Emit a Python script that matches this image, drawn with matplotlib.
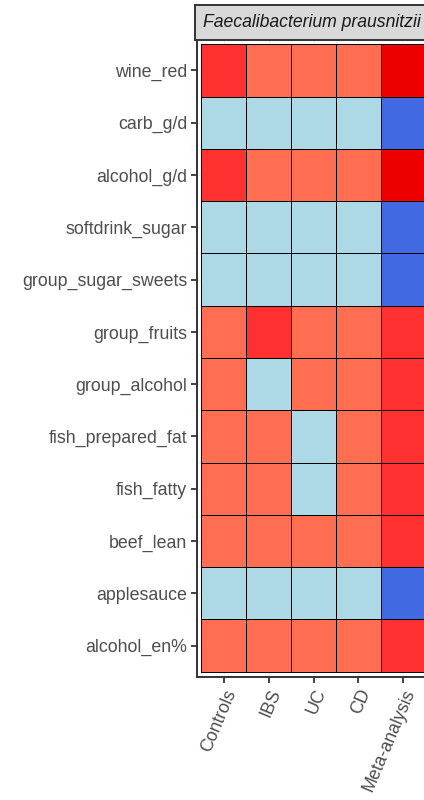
import numpy as np
import matplotlib
matplotlib.use('Agg')
import matplotlib.pyplot as plt
from matplotlib.colors import ListedColormap, BoundaryNorm

# rows from top to bottom
foods = ['wine_red', 'carb_g/d', 'alcohol_g/d', 'softdrink_sugar',
         'group_sugar_sweets', 'group_fruits', 'group_alcohol',
         'fish_prepared_fat', 'fish_fatty', 'beef_lean', 'applesauce',
         'alcohol_en%']
cohorts = ['Controls', 'IBS', 'UC', 'CD', 'Meta-analysis']
species = 'Faecalibacterium prausnitzii'

# association class per cell: 0 strong neg, 1 neg, 2 pos, 3 strong pos, 4 strongest pos
controls = [3, 1, 3, 1, 1, 2, 2, 2, 2, 2, 1, 2]
ibs      = [2, 1, 2, 1, 1, 3, 1, 2, 2, 2, 1, 2]
uc       = [2, 1, 2, 1, 1, 2, 2, 1, 1, 2, 1, 2]
cd       = [2, 1, 2, 1, 1, 2, 2, 2, 2, 2, 1, 2]
meta     = [4, 0, 4, 0, 0, 3, 3, 3, 3, 3, 0, 3]

colors = ['#4169E1', '#ADD8E6', '#FF6E50', '#FF3030', '#EE0000']

grid = np.array([controls, ibs, uc, cd, meta]).T
cmap = ListedColormap(colors)
norm = BoundaryNorm(np.arange(-0.5, 5.5, 1), cmap.N)

fig = plt.figure(figsize=(4.24, 8), dpi=100)
W, H = 424, 800
ax = fig.add_axes([197 / W, 1 - 677 / H, 233 / W, 638 / H])

ax.set_axisbelow(True)
ax.grid(True, color='#ebebeb', linewidth=0.6)
xe = np.arange(len(cohorts) + 1) - 0.5
ye = np.arange(len(foods) + 1) - 0.5
ax.pcolormesh(xe, ye, grid, cmap=cmap, norm=norm, edgecolors='black',
              linewidth=0.65, zorder=2)

ax.set_xlim(-0.6, len(cohorts) - 0.4)
ax.set_ylim(len(foods) - 0.4, -0.6)
ax.set_xticks(range(len(cohorts)))
ax.set_yticks(range(len(foods)))
ax.set_xticklabels(cohorts, rotation=67, ha='right', va='top',
                   rotation_mode='anchor', fontsize=12.8, color='#4d4d4d',
                   family='Liberation Sans')
ax.set_yticklabels(foods, fontsize=12.8, color='#4d4d4d',
                   family='Liberation Sans')
ax.tick_params(length=4, width=1.3, color='#333333', pad=3)

for s in ['top', 'right']:
    ax.spines[s].set_visible(False)
for s in ['left', 'bottom']:
    ax.spines[s].set_color('#333333')
    ax.spines[s].set_linewidth(1.4)

# facet strip
strip = fig.add_axes([195 / W, 1 - 40 / H, 240 / W, 35 / H])
strip.set_facecolor('#d9d9d9')
strip.set_xticks([])
strip.set_yticks([])
for s in strip.spines.values():
    s.set_color('#333333')
    s.set_linewidth(1.4)
fig.text(203 / W, 1 - 22.5 / H, species, style='italic', fontsize=12.7,
         color='#1a1a1a', va='center', ha='left', family='Liberation Sans')

fig.savefig('out.png', dpi=100)
